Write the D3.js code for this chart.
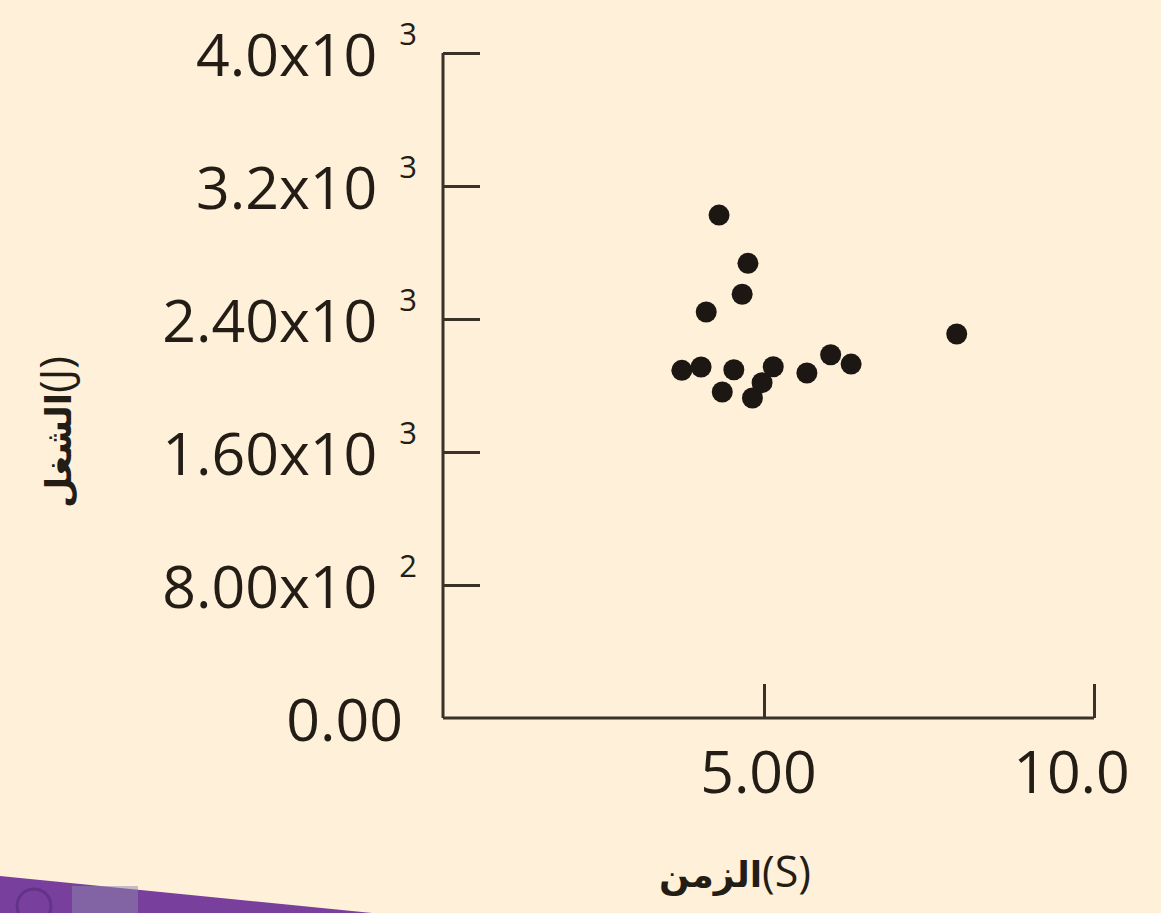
<!DOCTYPE html>
<html>
<head>
<meta charset="utf-8">
<script src="https://cdn.jsdelivr.net/npm/d3@7/dist/d3.min.js"></script>
<style>
  html, body { margin: 0; padding: 0; background: #fef0d9; }
  svg { display: block; }
  text { font-family: "Open Sans", "DejaVu Sans", sans-serif; fill: #241d16; }
</style>
</head>
<body>
<svg id="chart" width="1161" height="913"></svg>
<script>
// Time (s) and work (J) for each trial
const timeValues = [3.72, 4.02, 4.10, 4.30, 4.35, 4.53, 4.66, 4.75, 4.82, 4.97, 5.14, 5.65, 6.01, 6.32, 7.92];
const workValues = [2091, 2111, 2442, 3025, 1961, 2095, 2549, 2735, 1925, 2017, 2113, 2075, 2185, 2129, 2310];

// Axis ticks and their printed labels (mantissa + power of ten)
const yTicks = [0, 800, 1600, 2400, 3200, 4000];
const yTickMantissa = ["0.00", "8.00x10", "1.60x10", "2.40x10", "3.2x10", "4.0x10"];
const yTickExponent = ["", "2", "3", "3", "3", "3"];
const xTicks = [5, 10];
const xTickLabels = ["5.00", "10.0"];

const xTitleName = "الزمن";
const xTitleUnit = "(S)";
const yTitleName = "الشغل";
const yTitleUnit = "(J)";

const svg = d3.select("#chart");
const ink = "#3a3128";

// Decorative page strip in the lower-left corner
svg.append("path")
  .attr("d", "M0,876 L372,913 L0,913 Z")
  .attr("fill", "#78409c");
svg.append("rect")
  .attr("x", 72).attr("y", 886).attr("width", 66).attr("height", 27)
  .attr("fill", "#8c88ae").attr("opacity", 0.5);
svg.append("circle")
  .attr("cx", 34).attr("cy", 906).attr("r", 17)
  .attr("fill", "none").attr("stroke", "#63338a").attr("stroke-width", 3);

const x = d3.scaleLinear().domain([0, 5, 10]).range([443, 764, 1094]);
const y = d3.scaleLinear().domain([0, 4000]).range([718, 53]);

// Y axis: ticks point into the plot
const yAxis = svg.append("g")
  .attr("transform", `translate(${x(0)},0)`)
  .call(d3.axisLeft(y).tickValues(yTicks).tickSize(-37).tickSizeOuter(0).tickFormat(""));
yAxis.select(".domain").attr("stroke", ink).attr("stroke-width", 3).attr("d", `M0,${y(4000)}V${y(0)}`);
yAxis.selectAll(".tick line").attr("stroke", ink).attr("stroke-width", 3);
yAxis.selectAll(".tick").filter(d => d === 0).select("line").remove();

const yLabel = yAxis.selectAll(".tick").append("text")
  .attr("text-anchor", "end")
  .attr("x", (d, i) => yTickExponent[i] ? -26 : -40)
  .attr("y", 22)
  .style("font-size", "59px");
yLabel.append("tspan").text((d, i) => yTickMantissa[i]);
yLabel.append("tspan")
  .attr("dx", 22).attr("dy", -31)
  .style("font-size", "31px")
  .text((d, i) => yTickExponent[i]);

// X axis: ticks point up into the plot
const xAxis = svg.append("g")
  .attr("transform", `translate(0,${y(0)})`)
  .call(d3.axisBottom(x).tickValues(xTicks).tickSize(-34).tickSizeOuter(0).tickFormat(""));
xAxis.select(".domain").attr("stroke", ink).attr("stroke-width", 3).attr("d", `M${x(0)},0H${x(10)}`);
xAxis.selectAll(".tick line").attr("stroke", ink).attr("stroke-width", 3);
xAxis.selectAll(".tick").append("text")
  .attr("text-anchor", "middle")
  .attr("x", (d, i) => i === xTicks.length - 1 ? -23 : -6)
  .attr("y", 75)
  .style("font-size", "59px")
  .text((d, i) => xTickLabels[i]);

// Axis titles: bold Arabic name followed by the unit in parentheses
function titleParts(sel, name, unit) {
  sel.append("tspan").style("font-size", "36px").style("font-weight", "bold").text(name);
  sel.append("tspan").style("font-size", "43px").text(unit);
}

titleParts(
  svg.append("text")
    .attr("x", 735).attr("y", 887)
    .attr("text-anchor", "middle")
    .attr("direction", "ltr"),
  xTitleName, xTitleUnit);

titleParts(
  svg.append("text")
    .attr("transform", "translate(71,432) rotate(-90)")
    .attr("text-anchor", "middle")
    .attr("direction", "ltr"),
  yTitleName, yTitleUnit);

// Data points
svg.append("g")
  .selectAll("circle")
  .data(timeValues.map((t, i) => ({ t, w: workValues[i] })))
  .join("circle")
  .attr("cx", d => x(d.t))
  .attr("cy", d => y(d.w))
  .attr("r", 10.5)
  .attr("fill", "#1c1712");
</script>
</body>
</html>
